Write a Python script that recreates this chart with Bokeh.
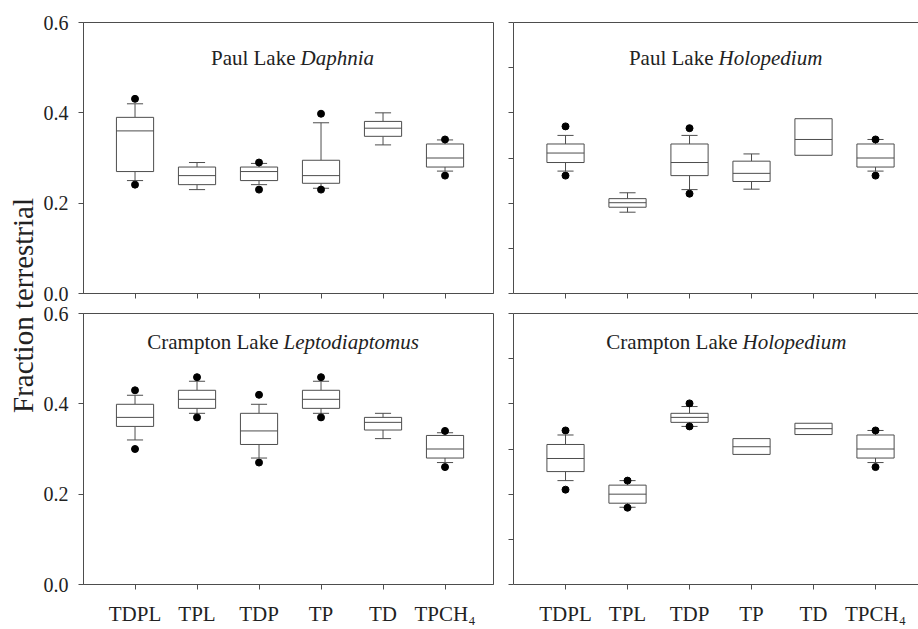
import numpy as np
from bokeh.plotting import figure
from bokeh.layouts import row, column
from bokeh.models import (ColumnDataSource, FixedTicker, LinearAxis, Range1d,
                          CustomJSTickFormatter)
from bokeh.transform import dodge
from bokeh.core.properties import value
from bokeh.embed import file_html
from bokeh.resources import INLINE

nan = float("nan")

categories = ["TDPL", "TPL", "TDP", "TP", "TD", "TPCH\u2084"]
y_label = "Fraction terrestrial"

# Box statistics per treatment: outlier low, whisker low, q1, median, q3,
# whisker high, outlier high (nan where not shown)

# Paul Lake Daphnia
pd_out_lo = [0.241, nan, 0.230, 0.230, nan, 0.261]
pd_wlo = [0.250, 0.230, 0.241, 0.233, 0.329, 0.271]
pd_q1 = [0.270, 0.241, 0.250, 0.244, 0.348, 0.280]
pd_med = [0.360, 0.261, 0.270, 0.261, 0.366, 0.300]
pd_q3 = [0.390, 0.280, 0.280, 0.295, 0.381, 0.331]
pd_whi = [0.420, 0.290, 0.288, 0.378, 0.400, 0.340]
pd_out_hi = [0.431, nan, 0.290, 0.398, nan, 0.341]

# Paul Lake Holopedium
ph_out_lo = [0.261, nan, 0.221, nan, nan, 0.261]
ph_wlo = [0.271, 0.180, 0.230, 0.231, nan, 0.271]
ph_q1 = [0.290, 0.191, 0.261, 0.248, 0.306, 0.280]
ph_med = [0.311, 0.201, 0.290, 0.266, 0.341, 0.300]
ph_q3 = [0.331, 0.210, 0.331, 0.293, 0.387, 0.331]
ph_whi = [0.350, 0.223, 0.350, 0.309, nan, 0.341]
ph_out_hi = [0.370, nan, 0.366, nan, nan, 0.341]

# Crampton Lake Leptodiaptomus
cl_out_lo = [0.300, 0.370, 0.270, 0.370, nan, 0.260]
cl_wlo = [0.320, 0.379, 0.280, 0.379, 0.323, 0.270]
cl_q1 = [0.350, 0.390, 0.310, 0.390, 0.342, 0.280]
cl_med = [0.370, 0.410, 0.340, 0.410, 0.359, 0.300]
cl_q3 = [0.399, 0.430, 0.379, 0.430, 0.370, 0.330]
cl_whi = [0.419, 0.450, 0.399, 0.450, 0.379, 0.336]
cl_out_hi = [0.430, 0.459, 0.420, 0.459, nan, 0.340]

# Crampton Lake Holopedium
ch_out_lo = [0.210, 0.170, 0.350, nan, nan, 0.260]
ch_wlo = [0.230, 0.171, 0.350, nan, nan, 0.270]
ch_q1 = [0.250, 0.180, 0.359, 0.288, 0.332, 0.280]
ch_med = [0.279, 0.200, 0.370, 0.305, 0.345, 0.300]
ch_q3 = [0.310, 0.220, 0.379, 0.323, 0.357, 0.331]
ch_whi = [0.331, 0.230, 0.394, nan, nan, 0.341]
ch_out_hi = [0.341, 0.230, 0.401, nan, nan, 0.341]

FONT = value("Liberation Serif")
AXIS_FONT = "'Liberation Serif', serif"
LINE = "#4d4d4d"
TEXT = "#222222"
PX_PER_UNIT = 62.0


def blank_formatter():
    return CustomJSTickFormatter(code="return ''")


def make_panel(lake, species, split_x, base_y, stats, left_col, bottom_row):
    out_lo, wlo, q1, med, q3, whi, out_hi = [np.array(s, dtype=float) for s in stats]
    xs = np.arange(1, len(categories) + 1, dtype=float)

    if left_col:
        width, mb_left, mb_right = 463, 43, 10
        x0 = 0.169
        frame_w = 410
    else:
        width, mb_left, mb_right = 415, 10, 0
        x0 = 0.161
        frame_w = 405
    if bottom_row:
        height, mb_top, mb_bottom = 326, 10, 45
    else:
        height, mb_top, mb_bottom = 303, 22, 10

    p = figure(width=width, height=height, output_backend="svg",
               toolbar_location=None,
               x_range=Range1d(x0, x0 + frame_w / PX_PER_UNIT),
               y_range=Range1d(0, 0.6),
               min_border_left=mb_left, min_border_right=mb_right,
               min_border_top=mb_top, min_border_bottom=mb_bottom)
    p.xgrid.visible = False
    p.ygrid.visible = False
    p.background_fill_color = "white"
    p.border_fill_color = "white"
    p.outline_line_color = LINE if left_col else None
    p.outline_line_width = 1

    src = ColumnDataSource(dict(x=xs, out_lo=out_lo, wlo=wlo, q1=q1, med=med,
                                q3=q3, whi=whi, out_hi=out_hi))

    # whiskers
    p.segment(x0="x", y0="q3", x1="x", y1="whi", source=src, line_color=LINE, line_width=1)
    p.segment(x0="x", y0="q1", x1="x", y1="wlo", source=src, line_color=LINE, line_width=1)
    # whisker caps
    p.segment(x0=dodge("x", -0.13), y0="whi", x1=dodge("x", 0.13), y1="whi",
              source=src, line_color=LINE, line_width=1)
    p.segment(x0=dodge("x", -0.13), y0="wlo", x1=dodge("x", 0.13), y1="wlo",
              source=src, line_color=LINE, line_width=1)
    # boxes
    p.vbar(x="x", bottom="q1", top="q3", width=0.6, source=src,
           fill_color="white", line_color=LINE, line_width=1)
    # medians
    p.segment(x0=dodge("x", -0.3), y0="med", x1=dodge("x", 0.3), y1="med",
              source=src, line_color=LINE, line_width=1)
    # outliers
    p.scatter(x="x", y="out_lo", source=src, size=7, color="black")
    p.scatter(x="x", y="out_hi", source=src, size=7, color="black")

    # panel title: lake name upright, taxon italic
    p.text(x=[split_x], y=[base_y], text=[lake], text_align="right",
           text_baseline="alphabetic", x_offset=-5, text_font=FONT,
           text_font_size="21px", text_color=TEXT)
    p.text(x=[split_x], y=[base_y], text=[species], text_align="left",
           text_baseline="alphabetic", text_font=FONT, text_font_style="italic",
           text_font_size="21px", text_color=TEXT)

    # x axis
    xa = p.xaxis[0]
    xa.ticker = FixedTicker(ticks=list(xs))
    xa.axis_line_color = LINE
    xa.major_tick_line_color = LINE
    xa.major_tick_in = 0
    xa.major_tick_out = 5
    xa.minor_tick_line_color = None
    if bottom_row:
        xa.major_label_overrides = {int(i + 1): c for i, c in enumerate(categories)}
        xa.major_label_text_font = AXIS_FONT
        xa.major_label_text_font_size = "21px"
        xa.major_label_text_color = TEXT
        xa.major_label_standoff = 12
    else:
        xa.formatter = blank_formatter()
        xa.major_label_standoff = 0

    # y axis
    ya = p.yaxis[0]
    ya.axis_line_color = LINE
    ya.major_tick_line_color = LINE
    ya.major_tick_in = 0
    ya.major_tick_out = 5
    ya.minor_tick_line_color = None
    if left_col:
        ya.ticker = FixedTicker(ticks=[0.0, 0.2, 0.4, 0.6])
        ya.major_label_overrides = {0: "0.0", 0.2: "0.2", 0.4: "0.4", 0.6: "0.6"}
        ya.major_label_text_font = AXIS_FONT
        ya.major_label_text_font_size = "20px"
        ya.major_label_text_color = TEXT
        ya.major_label_standoff = 10
    else:
        ya.ticker = FixedTicker(ticks=[0.0, 0.1, 0.2, 0.3, 0.4, 0.5, 0.6])
        ya.formatter = blank_formatter()
        ya.major_label_standoff = 0
        top = LinearAxis(ticker=FixedTicker(ticks=[]), formatter=blank_formatter(),
                         axis_line_color=LINE, major_tick_out=0, major_tick_in=0,
                         major_label_standoff=0, minor_tick_line_color=None)
        p.add_layout(top, "above")
    return p


tl = make_panel("Paul Lake", "Daphnia", 3.669, 0.5225,
                (pd_out_lo, pd_wlo, pd_q1, pd_med, pd_q3, pd_whi, pd_out_hi), True, False)
tr = make_panel("Paul Lake", "Holopedium", 3.467, 0.5225,
                (ph_out_lo, ph_wlo, ph_q1, ph_med, ph_q3, ph_whi, ph_out_hi), False, False)
bl = make_panel("Crampton Lake", "Leptodiaptomus", 3.395, 0.538,
                (cl_out_lo, cl_wlo, cl_q1, cl_med, cl_q3, cl_whi, cl_out_hi), True, True)
br = make_panel("Crampton Lake", "Holopedium", 3.855, 0.538,
                (ch_out_lo, ch_wlo, ch_q1, ch_med, ch_q3, ch_whi, ch_out_hi), False, True)

# shared y-axis title in its own narrow strip
lab = figure(width=40, height=629, output_backend="svg", toolbar_location=None,
             x_range=Range1d(0, 40), y_range=Range1d(0, 629),
             x_axis_location=None, y_axis_location=None, min_border=0)
lab.xgrid.visible = False
lab.ygrid.visible = False
lab.outline_line_color = None
lab.text(x=[22], y=[324], text=[y_label], angle=np.pi / 2, text_align="center",
         text_baseline="middle", text_font=FONT, text_font_size="29px",
         text_color=TEXT)

layout = row(lab, column(tl, bl), column(tr, br))

open("out.html", "w").write(file_html(layout, INLINE))
